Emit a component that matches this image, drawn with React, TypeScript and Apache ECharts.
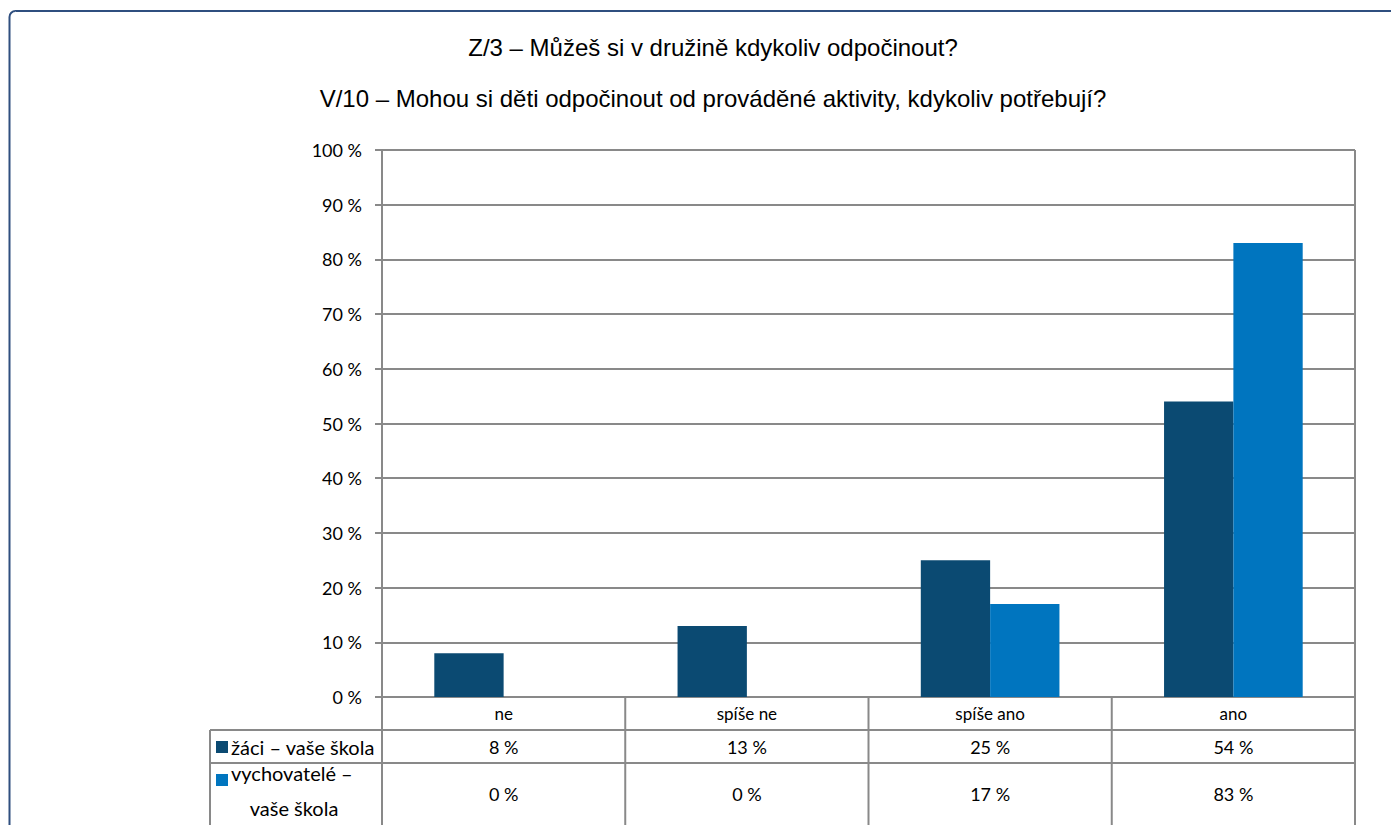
import React, { useEffect, useRef } from "react";
import * as echarts from "echarts";

const titleLines = [
  "Z/3 – Můžeš si v družině kdykoliv odpočinout?",
  "V/10 – Mohou si děti odpočinout od prováděné aktivity, kdykoliv potřebují?",
];
const categories = ["ne", "spíše ne", "spíše ano", "ano"];
const seriesNames = ["žáci – vaše škola", "vychovatelé – vaše škola"];
const seriesLabelLines = [["žáci – vaše škola"], ["vychovatelé –", "vaše škola"]];
const zaciValues = [8, 13, 25, 54];
const vychovateleValues = [0, 0, 17, 83];
const yTicks = [0, 10, 20, 30, 40, 50, 60, 70, 80, 90, 100];
const colors = ["#0B4A72", "#0075BF"];

const FONT = "Lato, 'Open Sans', sans-serif";
const FS = 18;
const GRID = "#898989";

export default function App() {
  const ref = useRef<HTMLDivElement>(null);
  useEffect(() => {
    document.body.style.margin = "0";
    const el = ref.current!;
    const chart = echarts.init(el, null, { renderer: "svg" });
    const seriesData = [zaciValues, vychovateleValues];
    chart.setOption({
      animation: false,
      backgroundColor: "#fff",
      grid: { left: 382, right: 36, top: 150, bottom: 128, containLabel: false },
      xAxis: {
        type: "category",
        data: categories,
        axisLine: { lineStyle: { color: GRID, width: 2 } },
        axisTick: { show: false },
        axisLabel: { color: "#000", fontFamily: FONT, fontSize: 17, margin: 8 },
        splitLine: { show: false },
      },
      yAxis: {
        type: "value",
        min: yTicks[0],
        max: yTicks[yTicks.length - 1],
        interval: 10,
        axisLine: { show: true, lineStyle: { color: GRID, width: 2 } },
        axisTick: { show: true, length: 7, lineStyle: { color: GRID, width: 2 } },
        axisLabel: {
          color: "#000",
          fontFamily: FONT,
          fontSize: FS,
          margin: 20,
          formatter: (v: number) => `${v} %`,
        },
        splitLine: { lineStyle: { color: GRID, width: 2 } },
      },
      series: seriesData.map((d, i) => ({
        type: "bar",
        name: seriesNames[i],
        data: d,
        barGap: "0%",
        barCategoryGap: "43%",
        itemStyle: { color: colors[i] },
      })),
    });

    const centers = categories.map((_, i) => chart.convertToPixel({ xAxisIndex: 0 }, i) as number);
    const step = centers.length > 1 ? centers[1] - centers[0] : 243;
    const bounds = [centers[0] - step / 2, ...centers.map((c) => c + step / 2)];
    const right = bounds[bounds.length - 1];
    const yTop = chart.convertToPixel({ yAxisIndex: 0 }, 100) as number;
    const yZero = chart.convertToPixel({ yAxisIndex: 0 }, 0) as number;
    const rowA = yZero + 33;
    const rowB = rowA + 33;
    const rowEnd = 840;
    const tableLeft = 210;
    const ls = { stroke: GRID, lineWidth: 2 };
    const txt = (text: string, x: number, y: number, align: string, size = FS, family = FONT) => ({
      type: "text",
      x,
      y,
      style: { text, fill: "#000", fontSize: size, fontFamily: family, align, verticalAlign: "middle" },
    });
    const elements: any[] = [];
    elements.push({
      type: "rect",
      shape: { x: 9.5, y: 11, width: 1420, height: 900, r: 6 },
      style: { fill: "none", stroke: "#2F4F7F", lineWidth: 2 },
    });
    elements.push({ type: "line", shape: { x1: bounds[0], y1: yTop, x2: right, y2: yTop }, style: ls });
    elements.push({ type: "line", shape: { x1: right, y1: yTop, x2: right, y2: yZero }, style: ls });
    titleLines.forEach((t, i) => {
      elements.push(txt(t, 713, 47 + i * 51, "center", 24, "'Liberation Sans', Arial, sans-serif"));
    });
    bounds.forEach((b) => {
      elements.push({ type: "line", shape: { x1: b, y1: yZero, x2: b, y2: rowEnd }, style: ls });
    });
    elements.push({ type: "line", shape: { x1: tableLeft, y1: rowA, x2: tableLeft, y2: rowEnd }, style: ls });
    [rowA, rowB].forEach((y) => {
      elements.push({ type: "line", shape: { x1: tableLeft, y1: y, x2: right, y2: y }, style: ls });
    });
    const rowTops = [rowA, rowB];
    const rowCenters = [rowA + 16.5, rowB + 31];
    const lineYs = [[rowA + 16.5], [rowB + 10, rowB + 45]];
    seriesLabelLines.forEach((lines, si) => {
      elements.push({
        type: "rect",
        shape: { x: 216, y: rowTops[si] + 11, width: 12, height: 12 },
        style: { fill: colors[si] },
      });
      lines.forEach((line, li) => {
        elements.push(txt(line, li === 0 ? 231 : 294, lineYs[si][li], li === 0 ? "left" : "center", 20));
      });
    });
    seriesData.forEach((d, si) => {
      d.forEach((v, ci) => {
        elements.push(txt(`${v} %`, centers[ci], rowCenters[si], "center"));
      });
    });
    chart.setOption({ graphic: { elements } });
    return () => chart.dispose();
  }, []);
  return <div ref={ref} style={{ width: 1391, height: 825 }} />;
}
